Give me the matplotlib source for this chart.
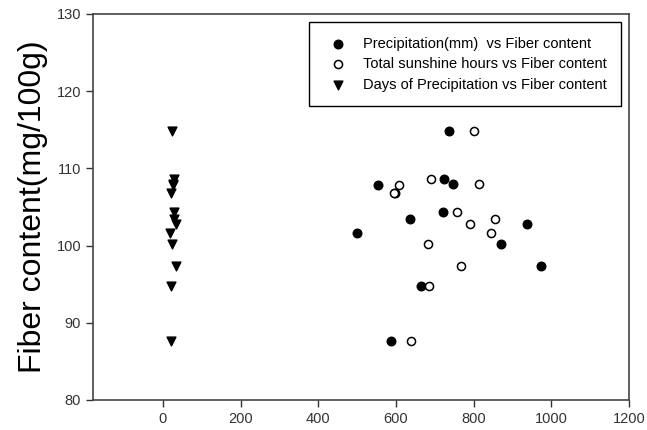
import numpy as np
import matplotlib.pyplot as plt

plt.rcParams['font.family'] = ['Liberation Sans', 'DejaVu Sans']

fiber = [114.8, 108.6, 108.0, 107.8, 106.8, 104.4, 103.5, 102.8, 101.6, 100.2, 97.3, 94.7, 87.6]
precip = [736, 723, 748, 554, 598, 722, 635, 938, 500, 871, 974, 665, 588]
sunshine = [801, 689, 815, 608, 596, 758, 856, 791, 844, 683, 767, 686, 638]
rain_days = [24, 29, 27, 26, 21, 29, 28, 35, 18, 24, 33, 21, 21]

fig = plt.figure(figsize=(6.47, 4.30), dpi=100)
ax = fig.add_axes([0.1437, 0.0698, 0.8285, 0.8977])

ax.scatter(precip, fiber, s=38, c='black', marker='o', label='Precipitation(mm)  vs Fiber content', zorder=3)
ax.scatter(sunshine, fiber, s=34, facecolors='white', edgecolors='black', linewidths=1.1,
           marker='o', label='Total sunshine hours vs Fiber content', zorder=4)
ax.scatter(rain_days, fiber, s=40, c='black', marker='v', label='Days of Precipitation vs Fiber content', zorder=3)

ax.set_xlim(-180, 1200)
ax.set_ylim(80, 130)
ax.set_xticks([0, 200, 400, 600, 800, 1000, 1200])
ax.set_yticks([80, 90, 100, 110, 120, 130])
ax.tick_params(direction='out', length=5, width=1, labelsize=10.5, colors='#333333')
for sp in ax.spines.values():
    sp.set_color('#444444')
    sp.set_linewidth(1.2)
ax.set_ylabel('Fiber content(mg/100g)', fontsize=23, labelpad=6)

leg = ax.legend(loc='upper right', bbox_to_anchor=(0.985, 0.979), borderaxespad=0,
                fancybox=False, edgecolor='black', fontsize=10.5, framealpha=1,
                handletextpad=0.7, labelspacing=0.45, borderpad=1.0)
leg.get_frame().set_linewidth(1.0)

plt.savefig('out.png', dpi=100)
